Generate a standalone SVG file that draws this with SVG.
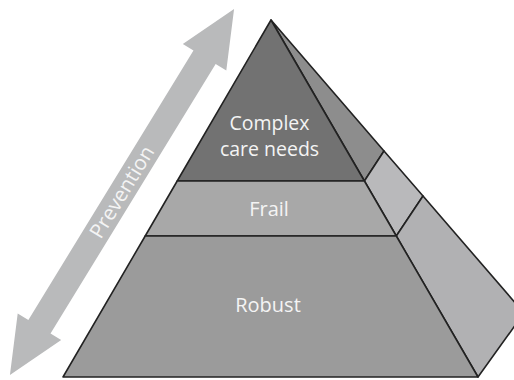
<svg xmlns="http://www.w3.org/2000/svg" width="514" height="380" viewBox="0 0 514 380">
<style>
.face{stroke:#222;stroke-width:1.6;stroke-linejoin:round}
.lbl{font-family:"Open Sans","Liberation Sans",sans-serif;font-size:20px;fill:#f4f4f4;text-anchor:middle}
</style>
<rect width="514" height="380" fill="#fff"/>
<g id="arrow-prevention" transform="translate(122,192) rotate(-58.5)">
<polygon points="214.5,0 158,-25.5 158,-13 -158,-13 -158,-25.5 -214.5,0 -158,25.5 -158,13 158,13 158,25.5" fill="#b9babb"/>
<text class="lbl" x="0" y="7" style="font-size:20.5px">Prevention</text>
</g>
<g id="side-faces">
<polygon class="face" points="271,20 384,151 364.4,181" fill="#8d8d8d"/>
<polygon class="face" points="364.4,181 384,151 423,196 396.3,236" fill="#b9b9bb"/>
<polygon class="face" points="396.3,236 423,196 524,313 478,377" fill="#b1b1b3"/>
</g>
<g id="complex-care-needs">
<polygon class="face" points="271,20 364.4,181 177.2,181" fill="#727272"/>
<text class="lbl" x="269.5" y="129.5" style="font-size:19.5px">Complex</text>
<text class="lbl" x="269.5" y="155.5" style="font-size:19.5px">care needs</text>
</g>
<g id="frail">
<polygon class="face" points="177.2,181 364.4,181 396.3,236 145.2,236" fill="#a8a8a8"/>
<text class="lbl" x="269" y="216">Frail</text>
</g>
<g id="robust">
<polygon class="face" points="145.2,236 396.3,236 478,377 63,377" fill="#9b9b9b"/>
<text class="lbl" x="268" y="312">Robust</text>
</g>
</svg>
